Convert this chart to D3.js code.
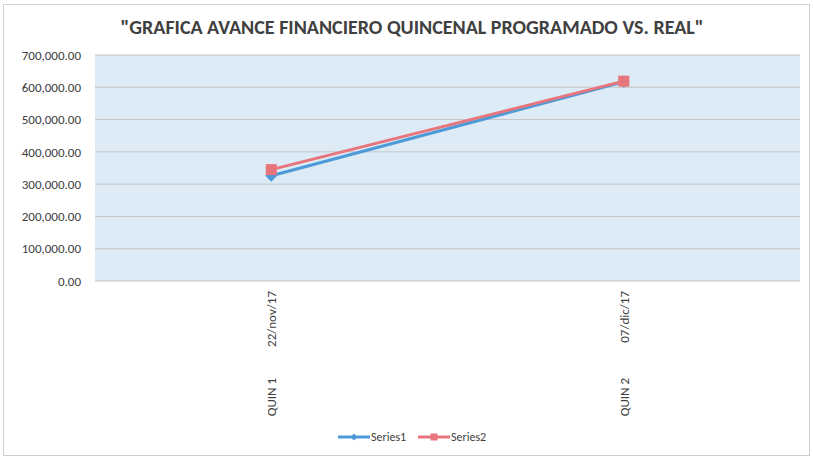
<!DOCTYPE html>
<html>
<head>
<meta charset="utf-8">
<script src="https://cdn.jsdelivr.net/npm/d3@7"></script>
<style>
  body { margin: 0; background: #fff; }
  text { font-family: Carlito, Lato, "Open Sans", sans-serif; }
</style>
</head>
<body>
<div id="chart"></div>
<script>
// chart data
let categories = ["QUIN 1", "QUIN 2"];
let dates = ["22/nov/17", "07/dic/17"];
let series1 = [326000, 617000];
let series2 = [345000, 619000];
let yTicks = [0, 100000, 200000, 300000, 400000, 500000, 600000, 700000];

let width = 813, height = 459;
let margin = {top: 55, right: 13, bottom: 178, left: 95};

let svg = d3.select('#chart')
    .append("svg")
    .attr('width', width)
    .attr('height', height);

// outer frame
svg.append("rect")
    .attr("x", 3.5).attr("y", 4.5)
    .attr("width", width - 7).attr("height", height - 8)
    .attr("fill", "none")
    .attr("stroke", "#cfcfcf");

let plotW = width - margin.left - margin.right;
let plotH = height - margin.top - margin.bottom;

let g = svg.append("g")
    .attr('transform', `translate(${margin.left}, ${margin.top})`);

let x = d3.scalePoint()
    .domain(categories)
    .range([0, plotW])
    .padding(0.5);

let y = d3.scaleLinear()
    .domain([0, 700000])
    .range([plotH, 0]);

// plot background
g.append("rect")
    .attr("width", plotW)
    .attr("height", plotH)
    .attr("fill", "#dcebf6");

// gridlines
g.selectAll(".grid").data(yTicks).enter()
    .append("line")
    .attr("class", "grid")
    .attr("x1", 0).attr("x2", plotW)
    .attr("y1", d => y(d)).attr("y2", d => y(d))
    .attr("stroke", "#c4c4c4")
    .attr("stroke-width", 1);

// y axis labels
let yAxis = g.append("g")
    .call(d3.axisLeft(y).tickValues(yTicks).tickSize(0).tickPadding(14)
        .tickFormat(d3.format(",.2f")));
yAxis.select(".domain").remove();
yAxis.selectAll("text")
    .style("font-size", "13px")
    .style("font-family", 'Carlito, Lato, "Open Sans", sans-serif')
    .attr("fill", "#404040");

// x axis labels (rotated, two levels)
let xLab = g.append("g");
categories.forEach((c, i) => {
    let t = xLab.append("g")
        .attr("transform", `translate(${x(c) + 5}, ${plotH + 10}) rotate(-90)`);
    t.append("text")
        .attr("text-anchor", "end")
        .attr("x", 0)
        .style("font-size", "13px")
        .attr("fill", "#404040")
        .text(dates[i]);
    t.append("text")
        .attr("text-anchor", "end")
        .attr("x", -87)
        .style("font-size", "13px")
        .attr("fill", "#404040")
        .text(c);
});

let line = d3.line()
    .x((d, i) => x(categories[i]))
    .y(d => y(d));

let blue = "#4d9ad8", pink = "#e8747c";

g.append("path")
    .datum(series1)
    .attr("d", line)
    .attr("fill", "none")
    .attr("stroke", blue)
    .attr("stroke-width", 3);

g.selectAll(".s1").data(series1).enter()
    .append("path")
    .attr("class", "s1")
    .attr("d", d3.symbol(d3.symbolDiamond2, 90))
    .attr("transform", (d, i) => `translate(${x(categories[i])}, ${y(d)})`)
    .attr("fill", blue);

g.append("path")
    .datum(series2)
    .attr("d", line)
    .attr("fill", "none")
    .attr("stroke", pink)
    .attr("stroke-width", 3);

g.selectAll(".s2").data(series2).enter()
    .append("rect")
    .attr("class", "s2")
    .attr("x", (d, i) => x(categories[i]) - 5.5)
    .attr("y", d => y(d) - 5.5)
    .attr("width", 11).attr("height", 11)
    .attr("fill", pink);

// title
svg.append("text")
    .attr("x", 412)
    .attr("y", 34)
    .attr("text-anchor", "middle")
    .style("font-size", "20px")
    .style("font-weight", "bold")
    .attr("fill", "#404040")
    .text('"GRAFICA AVANCE FINANCIERO QUINCENAL PROGRAMADO VS. REAL"');

// legend
let legend = svg.append("g").attr("transform", "translate(338, 437)");
[["Series1", blue], ["Series2", pink]].forEach((s, i) => {
    let lg = legend.append("g").attr("transform", `translate(${i * 80}, 0)`);
    lg.append("line")
        .attr("x1", 0).attr("x2", 32)
        .attr("stroke", s[1]).attr("stroke-width", 3);
    if (i == 0) {
        lg.append("path").attr("d", d3.symbol(d3.symbolDiamond2, 30))
            .attr("transform", "translate(16,0)").attr("fill", s[1]);
    } else {
        lg.append("rect").attr("x", 12.5).attr("y", -3.5)
            .attr("width", 7).attr("height", 7).attr("fill", s[1]);
    }
    lg.append("text")
        .attr("x", 33).attr("y", 4)
        .style("font-size", "12px")
        .attr("fill", "#404040")
        .text(s[0]);
});
</script>
</body>
</html>
